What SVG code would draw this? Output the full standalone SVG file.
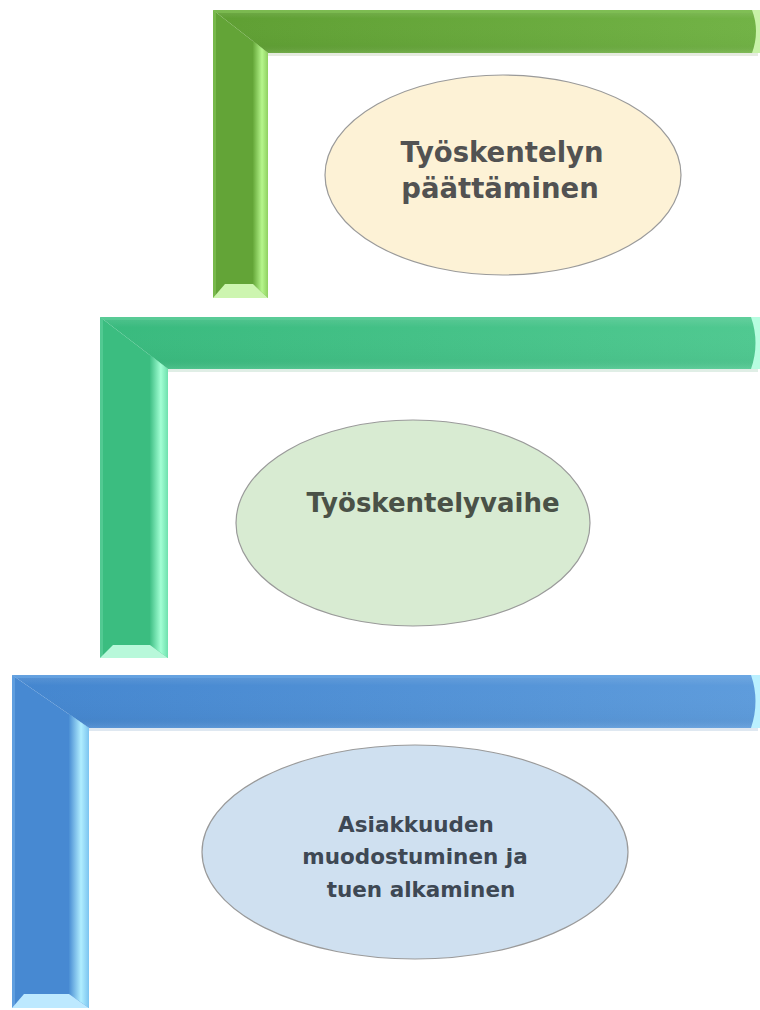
<svg xmlns="http://www.w3.org/2000/svg" width="760" height="1010" viewBox="0 0 760 1010">
<defs>
<linearGradient id="gH1" x1="0" y1="0" x2="1" y2="0"><stop offset="0" stop-color="#5f9f33"/><stop offset="1" stop-color="#72b346"/></linearGradient>
<linearGradient id="gH2" x1="0" y1="0" x2="1" y2="0"><stop offset="0" stop-color="#39ba7e"/><stop offset="1" stop-color="#50c991"/></linearGradient>
<linearGradient id="gH3" x1="0" y1="0" x2="1" y2="0"><stop offset="0" stop-color="#4486cf"/><stop offset="1" stop-color="#5e9cdc"/></linearGradient>
<linearGradient id="hl1" x1="0" y1="0" x2="1" y2="0"><stop offset="0" stop-color="#66a83a"/><stop offset="0.6" stop-color="#b6f68c"/><stop offset="1" stop-color="#8fd060"/></linearGradient>
<linearGradient id="hl2" x1="0" y1="0" x2="1" y2="0"><stop offset="0" stop-color="#3fbf85"/><stop offset="0.6" stop-color="#a2ffd4"/><stop offset="1" stop-color="#6ee0ad"/></linearGradient>
<linearGradient id="hl3" x1="0" y1="0" x2="1" y2="0"><stop offset="0" stop-color="#4a8ed4"/><stop offset="0.6" stop-color="#b0eeff"/><stop offset="1" stop-color="#7cc4f0"/></linearGradient>
<linearGradient id="shade" x1="0" y1="0" x2="0" y2="1"><stop offset="0" stop-color="#ffffff" stop-opacity="0.12"/><stop offset="0.2" stop-color="#ffffff" stop-opacity="0"/><stop offset="0.8" stop-color="#000000" stop-opacity="0.02"/><stop offset="1" stop-color="#ffffff" stop-opacity="0.1"/></linearGradient>
</defs>
<style>
.t{font-family:"DejaVu Sans",Verdana,sans-serif;font-weight:bold;text-anchor:middle}
.e{stroke:#9a9a9a;stroke-width:1.2}
</style>
<rect width="760" height="1010" fill="#ffffff"/>

<g id="bracket-top">
<path d="M213 10 H758 V53 H268 Z" fill="url(#gH1)"/>
<path d="M213 10 L268 53 V298 H213 Z" fill="#63a437"/>
<path d="M213 10 H758 V53 H268 Z" fill="url(#shade)"/>
<path d="M213 10 H758 V13 H216 V298 H213 Z" fill="#80c054" opacity="0.7"/>
<path d="M253 41 L268 53 V298 L253 284 Z" fill="url(#hl1)"/>
<path d="M213 298 H268 L253 284 H225 Z" fill="#cdf5b0"/>
<path d="M268 53 H758 V56 H268 Z" fill="#e6ebe0"/>
<path d="M752 10 Q760 31 752 53 H760 V10 Z" fill="#c8f2a8"/>
</g>

<g id="bracket-mid">
<path d="M100 317 H758 V369 H168 Z" fill="url(#gH2)"/>
<path d="M100 317 L168 369 V658 H100 Z" fill="#3bbd80"/>
<path d="M100 317 H758 V369 H168 Z" fill="url(#shade)"/>
<path d="M100 317 H758 V320 H103 V658 H100 Z" fill="#5ccf9a" opacity="0.7"/>
<path d="M150 355 L168 369 V658 L150 645 Z" fill="url(#hl2)"/>
<path d="M100 658 H168 L150 645 H113 Z" fill="#b8f8da"/>
<path d="M168 369 H758 V372 H168 Z" fill="#e0eee6"/>
<path d="M751 317 Q760 343 751 369 H760 V317 Z" fill="#b6fde0"/>
</g>

<g id="bracket-bot">
<path d="M12 675 H758 V728 H89 Z" fill="url(#gH3)"/>
<path d="M12 675 L89 728 V1008 H12 Z" fill="#4789d2"/>
<path d="M12 675 H758 V728 H89 Z" fill="url(#shade)"/>
<path d="M12 675 H758 V678 H15 V1008 H12 Z" fill="#6aa6e4" opacity="0.7"/>
<path d="M69 714 L89 728 V1008 L69 994 Z" fill="url(#hl3)"/>
<path d="M12 1008 H89 L69 994 H24 Z" fill="#bde9ff"/>
<path d="M89 728 H758 V731 H89 Z" fill="#dfe8f1"/>
<path d="M751 675 Q760 701 751 728 H760 V675 Z" fill="#baf0ff"/>
</g>

<g id="node-paattaminen">
<ellipse class="e" cx="503" cy="175" rx="178" ry="100" fill="#fdf2d6"/>
<text class="t" x="502" y="162" font-size="27.5" fill="#525252">Työskentelyn</text>
<text class="t" x="500" y="198" font-size="27.5" fill="#525252">päättäminen</text>
</g>

<g id="node-tyoskentelyvaihe">
<ellipse class="e" cx="413" cy="523" rx="177" ry="103" fill="#d8ebd2"/>
<text class="t" x="433" y="512" font-size="26" fill="#4a5147">Työskentelyvaihe</text>
</g>

<g id="node-asiakkuus">
<ellipse class="e" cx="415" cy="852" rx="213" ry="107" fill="#cfe0f0"/>
<text class="t" x="416" y="832" font-size="21.5" fill="#3e4854">Asiakkuuden</text>
<text class="t" x="415" y="864" font-size="21.5" fill="#3e4854">muodostuminen ja</text>
<text class="t" x="421" y="897" font-size="21.5" fill="#3e4854">tuen alkaminen</text>
</g>

<g id="connectors"></g>
</svg>
